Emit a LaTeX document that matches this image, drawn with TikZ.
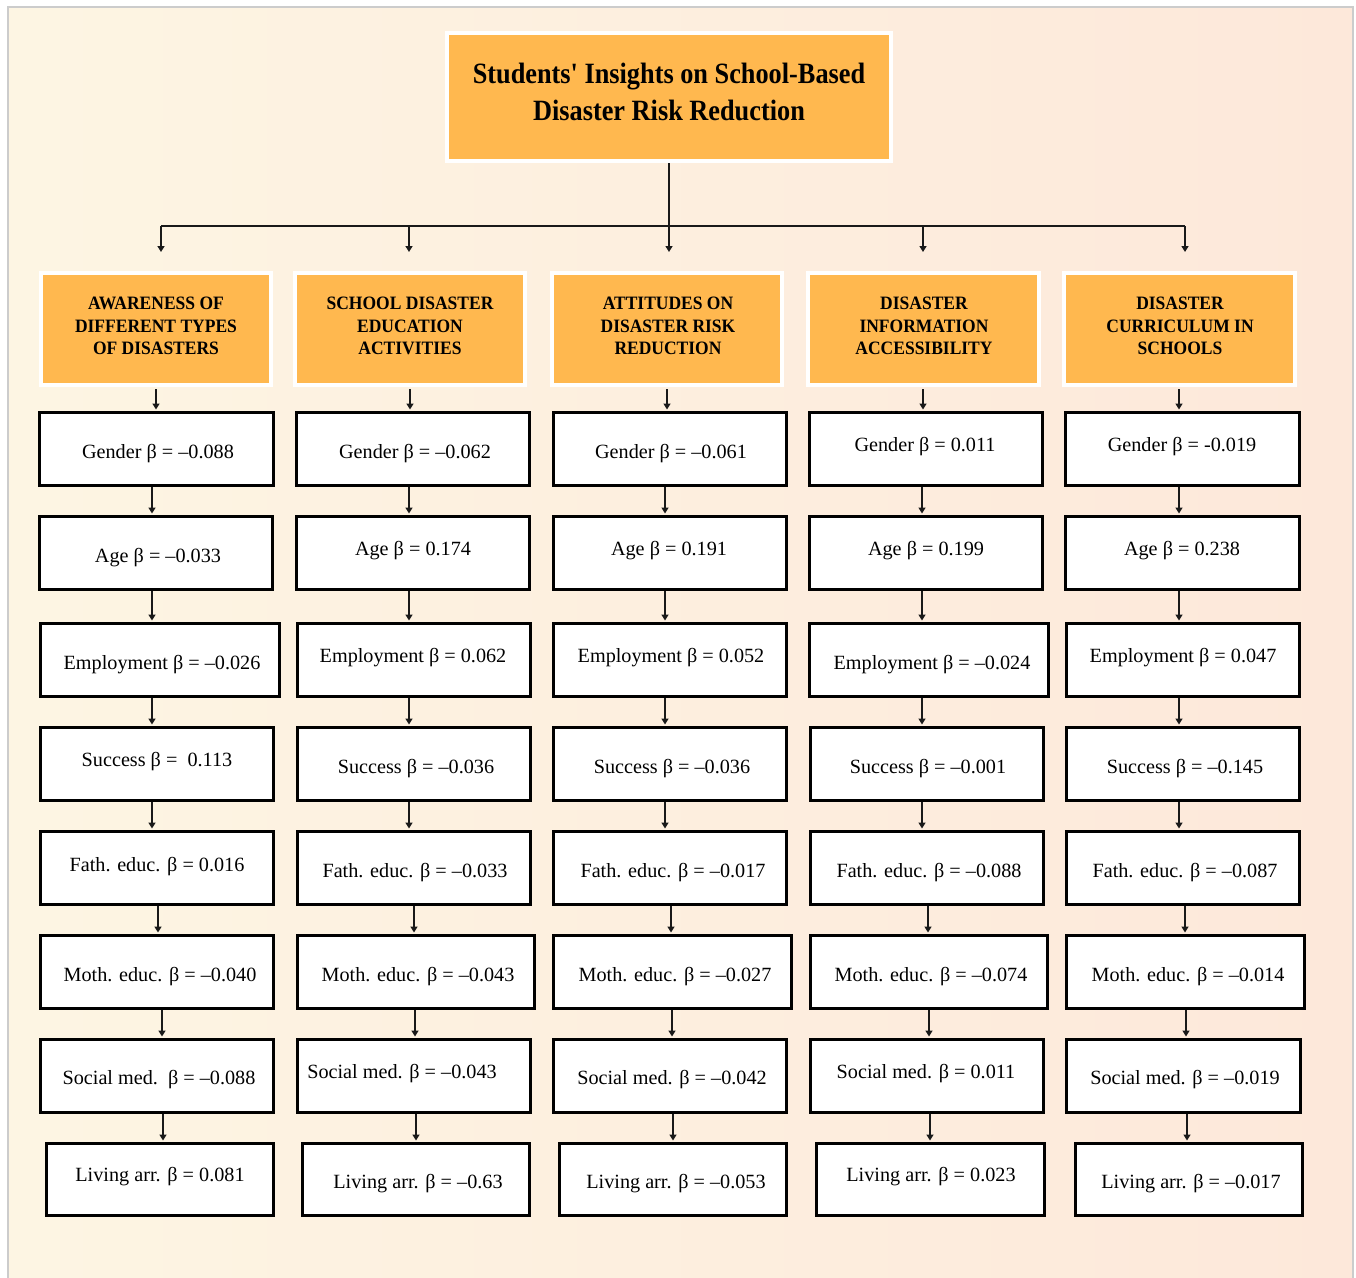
\documentclass[tikz,border=0pt]{standalone}
\usepackage{fontspec}
\setmainfont{Liberation Serif}
\newfontfamily\titlefont{Liberation Serif}[Ligatures=TeXOff]
\usetikzlibrary{arrows.meta}
\definecolor{bgL}{HTML}{FDF5E3}
\definecolor{bgR}{HTML}{FDE8DA}
\definecolor{orng}{HTML}{FFB84F}
\definecolor{frame}{HTML}{CCCCCC}
\tikzset{
  databox/.style={draw=black, line width=3.4pt, fill=white, rectangle, inner sep=0pt},
  datatext/.style={inner sep=0pt, text height=13pt, text depth=0pt, font=\fontsize{20.2}{24}\selectfont},
  catbox/.style={draw=white, line width=4pt, fill=orng, rectangle, inner sep=0pt},
  cattext/.style={inner sep=0pt, font=\fontsize{17.5}{21}\selectfont\bfseries},
  conn/.style={line width=1.8pt, draw=black!90},
  arr/.style={conn, -{Triangle[width=7pt,length=6pt]}},
}
\newcommand\dbx[8]{%
  \node[databox, minimum width={#4-#2-3.4}, minimum height={#5-#3-3.4}] (#1) at ({(#2+#4)/2},{(#3+#5)/2}) {};
  \node[datatext] (#1t) at (#6,#7) {#8};}
\newcommand\cattxt[1]{\scalebox{1}[1.08]{\begin{tabular}{@{}c@{}}#1\end{tabular}}}
\begin{document}
\begin{tikzpicture}[x=1pt,y=-1pt]
\useasboundingbox (0,0) rectangle (1356,1277);
\fill[white] (0,0) rectangle (1356,1277);
\shade[left color=bgL, right color=bgR] (8,7) rectangle (1353,1280);
\draw[frame, line width=1.6pt] (8,1280) -- (8,7) -- (1353,7) -- (1353,1280);

% title
\node[catbox, minimum width=444, minimum height=128] (title) at (669,97) {};
\node[inner sep=0pt, align=center, font=\fontsize{26.3}{37}\selectfont\titlefont\bfseries] (titlet) at (669,92)
  {\scalebox{1}[1.12]{Students' Insights on School-Based}\\ \scalebox{1}[1.12]{Disaster Risk Reduction}};

% categories
\node[catbox, minimum width=230, minimum height=112] (c1) at (156,329) {};
\node[catbox, minimum width=230, minimum height=112] (c2) at (410,329) {};
\node[catbox, minimum width=230, minimum height=112] (c3) at (667,329) {};
\node[catbox, minimum width=231, minimum height=112] (c4) at (923.5,329) {};
\node[catbox, minimum width=231, minimum height=112] (c5) at (1179.5,329) {};
\node[cattext] (c1t) at (156,327.5) {\cattxt{AWARENESS OF\\DIFFERENT TYPES\\OF DISASTERS}};
\node[cattext] (c2t) at (410,327.5) {\cattxt{SCHOOL DISASTER\\EDUCATION\\ACTIVITIES}};
\node[cattext] (c3t) at (668,327.5) {\cattxt{ATTITUDES ON\\DISASTER RISK\\REDUCTION}};
\node[cattext] (c4t) at (924,327.5) {\cattxt{DISASTER\\INFORMATION\\ACCESSIBILITY}};
\node[cattext] (c5t) at (1180,327.5) {\cattxt{DISASTER\\CURRICULUM IN\\SCHOOLS}};

% column 1
\dbx{a1}{38}{411}{275}{487}{158}{452}{Gender β = –0.088}
\dbx{a2}{38}{515}{274}{591}{158}{556}{Age β = –0.033}
\dbx{a3}{39}{622}{281}{698}{162}{663}{Employment β = –0.026}
\dbx{a4}{39}{726}{275}{802}{157}{760}{Success β =\ \ 0.113}
\dbx{a5}{39}{830}{275}{906}{157}{865}{Fath. educ. β = 0.016}
\dbx{a6}{39}{934}{275}{1010}{160}{975}{Moth. educ. β = –0.040}
\dbx{a7}{39}{1038}{275}{1114}{159}{1078}{Social med.\ \ β = –0.088}
\dbx{a8}{45}{1142}{275}{1217}{160}{1175}{Living arr. β = 0.081}
% column 2
\dbx{b1}{295}{411}{531}{487}{415}{452}{Gender β = –0.062}
\dbx{b2}{295}{515}{531}{591}{413}{549}{Age β = 0.174}
\dbx{b3}{296}{622}{532}{698}{413}{656}{Employment β = 0.062}
\dbx{b4}{296}{726}{532}{802}{416}{767}{Success β = –0.036}
\dbx{b5}{296}{830}{532}{906}{415}{871}{Fath. educ. β = –0.033}
\dbx{b6}{296}{934}{536}{1010}{418}{975}{Moth. educ. β = –0.043}
\dbx{b7}{296}{1038}{532}{1114}{402}{1072}{Social med. β = –0.043}
\dbx{b8}{301}{1142}{531}{1217}{418}{1182}{Living arr. β = –0.63}
% column 3
\dbx{d1}{552}{411}{788}{487}{671}{452}{Gender β = –0.061}
\dbx{d2}{552}{515}{788}{591}{669}{549}{Age β = 0.191}
\dbx{d3}{552}{622}{788}{698}{671}{656}{Employment β = 0.052}
\dbx{d4}{552}{726}{788}{802}{672}{767}{Success β = –0.036}
\dbx{d5}{552}{830}{788}{906}{673}{871}{Fath. educ. β = –0.017}
\dbx{d6}{552}{934}{793}{1010}{675}{975}{Moth. educ. β = –0.027}
\dbx{d7}{552}{1038}{788}{1114}{672}{1078}{Social med. β = –0.042}
\dbx{d8}{558}{1142}{788}{1217}{676}{1182}{Living arr. β = –0.053}
% column 4
\dbx{e1}{808}{411}{1044}{487}{925}{445}{Gender β = 0.011}
\dbx{e2}{808}{515}{1044}{591}{926}{549}{Age β = 0.199}
\dbx{e3}{808}{622}{1050}{698}{932}{663}{Employment β = –0.024}
\dbx{e4}{809}{726}{1045}{802}{928}{767}{Success β = –0.001}
\dbx{e5}{809}{830}{1045}{906}{929}{871}{Fath. educ. β = –0.088}
\dbx{e6}{809}{934}{1049}{1010}{931}{975}{Moth. educ. β = –0.074}
\dbx{e7}{809}{1038}{1045}{1114}{926}{1072}{Social med. β = 0.011}
\dbx{e8}{815}{1142}{1046}{1217}{931}{1175}{Living arr. β = 0.023}
% column 5
\dbx{f1}{1064}{411}{1301}{487}{1182}{445}{Gender β = -0.019}
\dbx{f2}{1064}{515}{1301}{591}{1182}{549}{Age β = 0.238}
\dbx{f3}{1065}{622}{1301}{698}{1183}{656}{Employment β = 0.047}
\dbx{f4}{1065}{726}{1301}{802}{1185}{767}{Success β = –0.145}
\dbx{f5}{1065}{830}{1301}{906}{1185}{871}{Fath. educ. β = –0.087}
\dbx{f6}{1065}{934}{1306}{1010}{1188}{975}{Moth. educ. β = –0.014}
\dbx{f7}{1065}{1038}{1302}{1114}{1185}{1078}{Social med. β = –0.019}
\dbx{f8}{1074}{1142}{1304}{1217}{1191}{1182}{Living arr. β = –0.017}

% top connectors
\coordinate (bus) at (669,226);
\draw[conn] (title.south) -- (bus);
\draw[conn] (161,0 |- bus) -- (1185,0 |- bus);
\foreach \x/\c in {161/c1, 409/c2, 669/c3, 923/c4, 1185/c5}
  \draw[arr, shorten >=19pt] (\x,0 |- bus) -- (\x,0 |- \c.north);

% category to first box
\foreach \x/\c/\b in {156/c1/a1, 410/c2/b1, 667/c3/d1, 923/c4/e1, 1179/c5/f1}
  \draw[arr, shorten >=1.5pt, shorten <=2pt] (\x,0 |- \c.south) -- (\x,0 |- \b.north);

% chains
\foreach \x/\p/\q in {152/a1/a2,152/a2/a3,152/a3/a4,152/a4/a5,158/a5/a6,162/a6/a7,163/a7/a8,
  409/b1/b2,409/b2/b3,409/b3/b4,409/b4/b5,414/b5/b6,415/b6/b7,416/b7/b8,
  665/d1/d2,665/d2/d3,665/d3/d4,665/d4/d5,671/d5/d6,672/d6/d7,673/d7/d8,
  922/e1/e2,922/e2/e3,922/e3/e4,922/e4/e5,928/e5/e6,929/e6/e7,930/e7/e8,
  1179/f1/f2,1179/f2/f3,1179/f3/f4,1179/f4/f5,1185/f5/f6,1186/f6/f7,1187/f7/f8}
  \draw[arr, shorten >=1.5pt] (\x,0 |- \p.south) -- (\x,0 |- \q.north);
\end{tikzpicture}
\end{document}
